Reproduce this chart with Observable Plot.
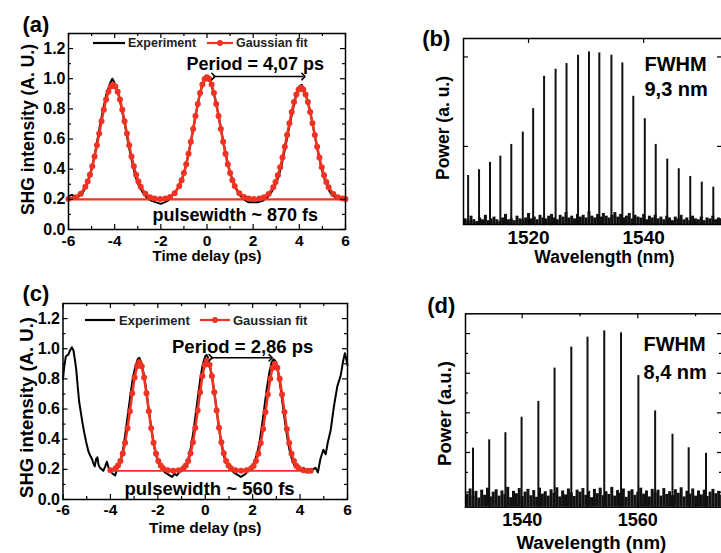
<!DOCTYPE html>
<html><head><meta charset="utf-8">
<script src="https://cdn.jsdelivr.net/npm/d3@7"></script>
<script src="https://cdn.jsdelivr.net/npm/@observablehq/plot@0.6"></script>
<style>
html,body{margin:0;padding:0;width:721px;height:553px;overflow:hidden;background:#fff;}
#root{position:relative;width:721px;height:553px;overflow:hidden;}
</style></head><body><div id="root"></div>
<script>
// ---------- data ----------
const timeTicks = [-6,-4,-2,0,2,4,6];
const timeMinor = [-5,-3,-1,1,3,5];
const shgTicks = [0,0.2,0.4,0.6,0.8,1.0,1.2];
const shgMinor = [0.1,0.3,0.5,0.7,0.9,1.1];

// (a) autocorrelation, experiment
const expA = [[-6.0,0.22],[-5.85,0.23],[-5.7,0.21],[-5.55,0.22],[-5.4,0.24],[-5.25,0.28],[-5.1,0.34],[-4.95,0.43],[-4.8,0.55],[-4.65,0.68],[-4.5,0.80],[-4.35,0.90],[-4.2,0.97],[-4.1,1.0],[-4.0,0.97],[-3.85,0.91],[-3.7,0.80],[-3.55,0.69],[-3.4,0.56],[-3.25,0.45],[-3.1,0.35],[-2.95,0.29],[-2.8,0.25],[-2.6,0.21],[-2.4,0.19],[-2.2,0.18],[-2.0,0.17],[-1.85,0.18],[-1.7,0.19],[-1.55,0.22],[-1.4,0.24],[-1.25,0.28],[-1.1,0.33],[-0.95,0.40],[-0.8,0.50],[-0.65,0.62],[-0.5,0.75],[-0.35,0.87],[-0.2,0.96],[-0.05,1.02],[0.05,1.01],[0.2,0.95],[0.35,0.87],[0.5,0.76],[0.65,0.63],[0.8,0.51],[0.95,0.41],[1.1,0.33],[1.25,0.27],[1.4,0.23],[1.6,0.20],[1.8,0.18],[2.0,0.18],[2.2,0.18],[2.4,0.19],[2.6,0.21],[2.8,0.25],[2.95,0.29],[3.1,0.35],[3.25,0.44],[3.4,0.55],[3.55,0.67],[3.7,0.78],[3.85,0.88],[4.0,0.95],[4.1,0.96],[4.2,0.93],[4.35,0.86],[4.5,0.76],[4.65,0.64],[4.8,0.52],[4.95,0.41],[5.1,0.33],[5.25,0.27],[5.4,0.23],[5.6,0.21],[5.8,0.20],[6.0,0.20]];
// (a) Gaussian fit points
const fitA = [[-6.0,0.202],[-5.67,0.214],[-5.47,0.237],[-5.27,0.283],[-5.17,0.318],[-5.07,0.363],[-4.97,0.419],[-4.87,0.484],[-4.77,0.558],[-4.67,0.637],[-4.57,0.718],[-4.47,0.794],[-4.37,0.862],[-4.27,0.914],[-4.17,0.949],[-4.07,0.960],[-3.97,0.949],[-3.87,0.914],[-3.77,0.862],[-3.67,0.794],[-3.57,0.718],[-3.47,0.637],[-3.37,0.558],[-3.27,0.484],[-3.17,0.419],[-3.07,0.363],[-2.97,0.318],[-2.87,0.283],[-2.67,0.237],[-2.47,0.214],[-2.27,0.205],[-2.03,0.203],[-1.8,0.206],[-1.6,0.215],[-1.4,0.240],[-1.2,0.288],[-1.1,0.326],[-1.0,0.374],[-0.9,0.433],[-0.8,0.503],[-0.7,0.582],[-0.6,0.666],[-0.5,0.752],[-0.4,0.833],[-0.3,0.906],[-0.2,0.961],[-0.1,0.998],[0.0,1.010],[0.1,0.998],[0.2,0.961],[0.3,0.906],[0.4,0.833],[0.5,0.752],[0.6,0.666],[0.7,0.582],[0.8,0.503],[0.9,0.433],[1.0,0.374],[1.1,0.326],[1.2,0.288],[1.4,0.240],[1.6,0.215],[1.8,0.206],[2.03,0.203],[2.27,0.205],[2.47,0.214],[2.67,0.236],[2.87,0.281],[2.97,0.315],[3.07,0.359],[3.17,0.413],[3.27,0.477],[3.37,0.549],[3.47,0.626],[3.57,0.704],[3.67,0.779],[3.77,0.845],[3.87,0.896],[3.97,0.929],[4.07,0.940],[4.17,0.929],[4.27,0.896],[4.37,0.845],[4.47,0.779],[4.57,0.704],[4.67,0.626],[4.77,0.549],[4.87,0.477],[4.97,0.413],[5.07,0.359],[5.17,0.315],[5.27,0.281],[5.47,0.236],[5.67,0.214],[5.87,0.205],[6.0,0.203]];
const baselineA = [{x1:-6, x2:6, y:0.2}];
const periodA = [{x1:0.28, x2:4.18, y:1.015}];

// (c) autocorrelation, experiment
const expC = [[-6.0,0.80],[-5.95,0.88],[-5.88,0.95],[-5.78,0.96],[-5.7,0.99],[-5.63,1.01],[-5.56,0.99],[-5.5,0.93],[-5.44,0.86],[-5.38,0.75],[-5.32,0.65],[-5.25,0.58],[-5.18,0.51],[-5.1,0.44],[-5.02,0.38],[-4.93,0.32],[-4.85,0.29],[-4.78,0.27],[-4.72,0.24],[-4.66,0.22],[-4.6,0.27],[-4.55,0.28],[-4.5,0.23],[-4.44,0.21],[-4.37,0.2],[-4.3,0.19],[-4.22,0.22],[-4.15,0.25],[-4.08,0.21],[-4.0,0.19],[-3.9,0.17],[-3.8,0.16],[-3.72,0.2],[-3.65,0.22],[-3.55,0.27],[-3.45,0.35],[-3.35,0.46],[-3.25,0.58],[-3.15,0.70],[-3.05,0.81],[-2.95,0.88],[-2.85,0.93],[-2.78,0.94],[-2.7,0.91],[-2.6,0.84],[-2.5,0.74],[-2.4,0.62],[-2.3,0.5],[-2.2,0.39],[-2.1,0.31],[-2.0,0.25],[-1.9,0.22],[-1.8,0.2],[-1.7,0.18],[-1.6,0.17],[-1.5,0.16],[-1.4,0.15],[-1.3,0.17],[-1.2,0.16],[-1.1,0.18],[-1.0,0.19],[-0.9,0.2],[-0.8,0.23],[-0.7,0.28],[-0.6,0.35],[-0.5,0.45],[-0.4,0.57],[-0.3,0.69],[-0.2,0.81],[-0.1,0.9],[0.0,0.95],[0.05,0.96],[0.12,0.94],[0.2,0.89],[0.3,0.8],[0.4,0.69],[0.5,0.57],[0.6,0.45],[0.7,0.35],[0.8,0.28],[0.9,0.24],[1.0,0.21],[1.1,0.2],[1.2,0.18],[1.3,0.17],[1.4,0.16],[1.5,0.15],[1.6,0.16],[1.7,0.17],[1.8,0.19],[1.9,0.2],[2.0,0.22],[2.1,0.26],[2.2,0.31],[2.3,0.39],[2.4,0.5],[2.5,0.62],[2.6,0.74],[2.7,0.84],[2.8,0.91],[2.88,0.93],[2.95,0.92],[3.05,0.86],[3.15,0.77],[3.25,0.65],[3.35,0.53],[3.45,0.42],[3.55,0.33],[3.65,0.27],[3.75,0.23],[3.85,0.21],[3.95,0.22],[4.05,0.2],[4.15,0.21],[4.25,0.19],[4.35,0.18],[4.45,0.19],[4.55,0.2],[4.65,0.21],[4.75,0.18],[4.86,0.27],[4.98,0.33],[5.08,0.3],[5.17,0.38],[5.29,0.46],[5.43,0.62],[5.57,0.75],[5.71,0.82],[5.82,0.92],[5.89,0.97],[5.95,0.93],[6.0,0.89]];
// (c) Gaussian fit points
const fitC = [[-4.0,0.194],[-3.78,0.207],[-3.68,0.225],[-3.58,0.256],[-3.48,0.305],[-3.38,0.377],[-3.28,0.472],[-3.18,0.585],[-3.08,0.704],[-2.98,0.810],[-2.88,0.883],[-2.78,0.910],[-2.68,0.883],[-2.58,0.810],[-2.48,0.704],[-2.38,0.585],[-2.28,0.472],[-2.18,0.377],[-2.08,0.305],[-1.98,0.256],[-1.88,0.225],[-1.78,0.207],[-1.58,0.194],[-1.35,0.190],[-1.12,0.194],[-0.92,0.208],[-0.82,0.225],[-0.72,0.256],[-0.62,0.307],[-0.52,0.380],[-0.42,0.476],[-0.32,0.591],[-0.22,0.711],[-0.12,0.819],[-0.02,0.893],[0.08,0.920],[0.18,0.893],[0.28,0.819],[0.38,0.711],[0.48,0.591],[0.58,0.476],[0.68,0.380],[0.78,0.307],[0.88,0.256],[0.98,0.225],[1.08,0.208],[1.28,0.194],[1.51,0.190],[1.74,0.194],[1.94,0.207],[2.04,0.224],[2.14,0.255],[2.24,0.304],[2.34,0.375],[2.44,0.468],[2.54,0.580],[2.64,0.697],[2.74,0.801],[2.84,0.874],[2.94,0.900],[3.04,0.874],[3.14,0.801],[3.24,0.697],[3.34,0.580],[3.44,0.468],[3.54,0.375],[3.64,0.304],[3.74,0.255],[3.84,0.224],[3.94,0.207],[4.14,0.194],[4.3,0.191],[4.45,0.190]];
const baselineC = [{x1:-4.0, x2:4.5, y:0.19}];
const periodC = [{x1:0.23, x2:2.76, y:0.94}];

// (b) spectrum: comb lines (nm, a.u.)
const wlTicksB = [1520,1540];
const powTicksB = [1,2];
const linesBwl = [1509.5,1511.4,1513.3,1515.1,1517.0,1519.0,1520.8,1522.7,1524.7,1526.6,1528.6,1530.5,1532.3,1534.4,1536.3,1538.2,1540.2,1542.1,1544.1,1546.1,1548.1,1550.1,1552.1];
const linesBp = [0.675,0.739,0.821,0.891,1.022,1.160,1.422,1.784,1.862,1.926,2.019,2.056,2.045,2.019,1.933,1.560,1.310,1.022,0.858,0.750,0.664,0.600,0.544];
const noiseBstart = 1509.0, noiseBstep = 0.5;
const noiseB = [0.19,0.17,0.22,0.18,0.16,0.2,0.18,0.23,0.17,0.19,0.21,0.18,0.16,0.2,0.24,0.18,0.19,0.17,0.22,0.19,0.18,0.2,0.25,0.19,0.21,0.18,0.23,0.2,0.19,0.22,0.24,0.2,0.18,0.23,0.21,0.26,0.2,0.22,0.19,0.24,0.21,0.23,0.2,0.27,0.22,0.2,0.24,0.21,0.25,0.22,0.2,0.23,0.26,0.21,0.24,0.2,0.22,0.25,0.19,0.23,0.21,0.2,0.24,0.18,0.22,0.2,0.23,0.19,0.21,0.18,0.22,0.2,0.17,0.21,0.19,0.23,0.18,0.2,0.17,0.22,0.19,0.18,0.21,0.17,0.2,0.19,0.22,0.18,0.2,0.19];

// (d) spectrum
const wlTicksD = [1540,1560];
const wlMinorD = [1550,1570];
const powTicksD = [0,1,2,3,4];
const powMinorD = [0.5,1.5,2.5,3.5];
const linesDwl = [1531.5,1534.3,1537.1,1539.9,1542.8,1545.6,1548.5,1551.3,1554.2,1557.1,1560.1,1563.0,1566.0,1568.8,1571.8];
const linesDp = [1.11,1.32,1.50,1.89,2.29,3.13,3.66,3.91,4.07,4.02,2.94,2.05,1.46,1.12,0.98];
const noiseDstart = 1530.5, noiseDstep = 0.5;
const noiseD = [-0.05,0.08,-0.1,0.02,-0.15,0.05,-0.08,0.1,-0.12,0.0,0.06,-0.1,0.03,-0.06,0.12,-0.14,0.02,-0.04,0.09,-0.11,0.0,0.07,-0.09,0.04,-0.13,0.1,-0.05,0.01,-0.1,0.06,-0.03,0.11,-0.12,0.03,-0.07,0.08,-0.02,-0.11,0.05,0.0,0.09,-0.08,0.02,-0.14,0.07,-0.04,0.1,-0.09,0.01,-0.06,0.12,-0.1,0.04,-0.03,0.08,-0.13,0.02,0.06,-0.08,0.0,0.1,-0.05,0.03,-0.12,0.07,-0.02,0.05,-0.1,0.09,-0.06,0.01,-0.09,0.06,-0.03,0.11,-0.12,0.02,-0.05,0.08,-0.1,0.03,-0.07,0.05,-0.11,0.0,0.07,-0.04,0.02,-0.08];

// ---------- rendering ----------
const FONT = '"Liberation Sans", Arial, Helvetica, sans-serif';
const RED = "#ee3322";
const root = document.getElementById("root");

function frameTicks(xMaj, xMin, yMaj, yMin, iw, ih) {
  const s = {stroke:"#000", strokeWidth:1.2};
  const tx = (v, len) => v.length ? [Plot.tickX(v, {x:d=>d, insetTop: ih-len, ...s}), Plot.tickX(v, {x:d=>d, insetBottom: ih-len, ...s})] : [];
  const ty = (v, len) => v.length ? [Plot.tickY(v, {y:d=>d, insetRight: iw-len, ...s}), Plot.tickY(v, {y:d=>d, insetLeft: iw-len, ...s})] : [];
  return [...tx(xMaj,5), ...tx(xMin,3), ...ty(yMaj,5), ...ty(yMin,3)];
}
function label(txt, o) {
  return Plot.text([txt], {text:d=>d, fontWeight:"bold", fill:"#000", ...o});
}
function place(el, left, top) {
  el.style.position = "absolute"; el.style.left = left+"px"; el.style.top = top+"px";
  root.append(el);
}
const baseStyle = {fontFamily: FONT, fontWeight:"bold", fontSize:"16px", color:"#000", background:"transparent", overflow:"visible"};

function shgPanel(o) {
  const iw = o.width - o.ml - o.mr, ih = o.height - o.mt - o.mb;
  return Plot.plot({
    width:o.width, height:o.height, marginLeft:o.ml, marginRight:o.mr, marginTop:o.mt, marginBottom:o.mb,
    x:{domain:[-6,6]}, y:{domain:[0,1.3]},
    style: baseStyle,
    marks:[
      Plot.line(o.exp, {x:d=>d[0], y:d=>d[1], stroke:"#000", strokeWidth:2}),
      Plot.ruleY(o.base, {x1:"x1", x2:"x2", y:"y", stroke:RED, strokeWidth:o.baseW}),
      Plot.line(o.fit, {x:d=>d[0], y:d=>d[1], stroke:RED, strokeWidth:2.6}),
      Plot.dot(o.fit, {x:d=>d[0], y:d=>d[1], r:3, fill:RED}),
      Plot.link(o.period, {x1:"x1", x2:"x2", y1:"y", y2:"y", stroke:"#000", strokeWidth:1.6, markerStart:"arrow", markerEnd:"arrow"}),
      Plot.frame({stroke:"#000", strokeWidth:1.5}),
      ...frameTicks(timeTicks, timeMinor, shgTicks, shgMinor, iw, ih),
      Plot.axisX({ticks:timeTicks, tickSize:0, tickPadding:o.xPad, tickFormat:d=>String(d), label:null, fontSize:15.5}),
      Plot.axisY({ticks:shgTicks, tickSize:0, tickPadding:3, tickFormat:d3.format(".1f"), label:null, fontSize:16}),
      label("Time delay (ps)", {frameAnchor:"bottom", dy:o.xtDy, textAnchor:"middle", lineAnchor:"middle", fontSize:o.xtSize}),
      label("SHG intensity (A. U.)", {frameAnchor:"left", rotate:-90, dx:o.ytDx, dy:o.ytDy, textAnchor:"middle", lineAnchor:"middle", fontSize:o.ytSize}),
      label(o.tag, {frameAnchor:"top-left", dx:o.tag_dx, dy:o.tag_dy, textAnchor:"start", lineAnchor:"bottom", fontSize:22}),
      label(o.periodText, {frameAnchor:"top-left", dx:o.p_dx, dy:o.p_dy, textAnchor:"start", lineAnchor:"bottom", fontSize:o.pSize}),
      label(o.pulseText, {frameAnchor:"top-left", dx:o.w_dx, dy:o.w_dy, textAnchor:"start", lineAnchor:"bottom", fontSize:o.pSize})
    ]
  });
}

function specPanel(o) {
  const iw = o.width - o.ml - o.mr, ih = o.height - o.mt - o.mb;
  const bottom = o.yDomain[0];
  return Plot.plot({
    width:o.width, height:o.height, marginLeft:o.ml, marginRight:o.mr, marginTop:o.mt, marginBottom:o.mb,
    x:{domain:o.xDomain}, y:{domain:o.yDomain, axis:null},
    style: baseStyle,
    marks:[
      Plot.ruleX(o.noise, {x:(d,i)=>o.nStart + i*o.nStep, y1:bottom, y2:d=>d, stroke:"#111", strokeWidth:3}),
      Plot.ruleX(o.wl, {x:d=>d, y1:bottom, y2:(d,i)=>o.p[i], stroke:"#111", strokeWidth:2}),
      Plot.frame({stroke:"#000", strokeWidth:1.5}),
      ...frameTicks(o.xTicks, o.xMinor, o.yTicks, o.yMinor, iw, ih),
      Plot.axisX({ticks:o.xTicks, tickSize:0, tickPadding:o.xPad, tickFormat:d=>String(d), label:null, fontSize:o.tickSize}),
      label("Wavelength (nm)", {frameAnchor:"bottom", dx:o.xtDx, dy:o.xtDy, textAnchor:"middle", lineAnchor:"middle", fontSize:o.xtSize}),
      label(o.yTitle, {frameAnchor:"left", rotate:-90, dx:o.ytDx, dy:o.ytDy, textAnchor:"middle", lineAnchor:"middle", fontSize:o.ytSize}),
      label(o.tag, {frameAnchor:"top-left", dx:o.tag_dx, dy:o.tag_dy, textAnchor:"start", lineAnchor:"bottom", fontSize:22}),
      label("FWHM", {frameAnchor:"top-left", dx:o.f_dx, dy:o.f_dy1, textAnchor:"start", lineAnchor:"bottom", fontSize:20}),
      label(o.fwhm, {frameAnchor:"top-left", dx:o.f_dx, dy:o.f_dy2, textAnchor:"start", lineAnchor:"bottom", fontSize:20})
    ]
  });
}

// legend overlay (inside panels a and c)
function legend(x0, y0, fs, blackW, gapText, redX, redW, textX2) {
  const ns = "http://www.w3.org/2000/svg";
  const svg = document.createElementNS(ns, "svg");
  svg.setAttribute("width", 300); svg.setAttribute("height", 20);
  svg.style.overflow = "visible";
  const mk = (tag, attrs) => { const e = document.createElementNS(ns, tag); for (const k in attrs) e.setAttribute(k, attrs[k]); svg.append(e); return e; };
  mk("line", {x1:0, x2:blackW, y1:10, y2:10, stroke:"#000", "stroke-width":2.2});
  const t1 = mk("text", {x:gapText, y:10, "dominant-baseline":"central", "font-family":FONT, "font-weight":"bold", "font-size":fs, fill:"#222"}); t1.textContent = "Experiment";
  mk("line", {x1:redX, x2:redX+redW, y1:10, y2:10, stroke:RED, "stroke-width":2.2});
  mk("circle", {cx:redX+redW/2, cy:10, r:3, fill:RED});
  const t2 = mk("text", {x:textX2, y:10, "dominant-baseline":"central", "font-family":FONT, "font-weight":"bold", "font-size":fs, fill:"#222"}); t2.textContent = "Gaussian fit";
  svg.style.position = "absolute"; svg.style.left = x0+"px"; svg.style.top = (y0-10)+"px";
  return svg;
}

const pa = shgPanel({width:360, height:270, ml:68, mr:15, mt:33, mb:41,
  exp:expA, fit:fitA, base:baselineA, baseW:2.2, period:periodA,
  xPad:5, xtDy:27, xtSize:15, ytDx:-40, ytDy:-2, ytSize:17.5,
  tag:"(a)", tag_dx:-46, tag_dy:-2,
  periodText:"Period = 4,07 ps", p_dx:118, p_dy:36, pSize:18,
  pulseText:"pulsewidth ~ 870 fs", w_dx:84, w_dy:187});
place(pa, 0, 0);

const pc = shgPanel({width:360, height:283, ml:62.5, mr:13, mt:33, mb:54,
  exp:expC, fit:fitC, base:baselineC, baseW:1.6, period:periodC,
  xPad:4, xtDy:28.5, xtSize:15.5, ytDx:-35.5, ytDy:6, ytSize:18.5,
  tag:"(c)", tag_dx:-40.5, tag_dy:-3,
  periodText:"Period = 2,86 ps", p_dx:109, p_dy:49, pSize:18.5,
  pulseText:"pulsewidth ~ 560 fs", w_dx:61.5, w_dy:191});
place(pc, 0, 270);

const pb = specPanel({width:400, height:270, ml:103, mr:38, mt:38, mb:46,
  xDomain:[1508.7,1553.7], yDomain:[0.127,2.206],
  noise:noiseB, nStart:noiseBstart, nStep:noiseBstep, wl:linesBwl, p:linesBp,
  xTicks:wlTicksB, xMinor:[], yTicks:powTicksB, yMinor:[],
  xPad:6, tickSize:19, xtDx:11.5, xtDy:33, xtSize:17.5,
  yTitle:"Power (a. u.)", ytDx:-20.5, ytDy:-3.5, ytSize:17.5,
  tag:"(b)", tag_dx:-41.3, tag_dy:7,
  f_dx:181, f_dy1:32.5, f_dy2:57, fwhm:"9,3 nm"});
place(pb, 360, 0);

const pd = specPanel({width:400, height:283, ml:105, mr:38, mt:43.3, mb:46.3,
  xDomain:[1530.2,1574.65], yDomain:[-0.38,4.5],
  noise:noiseD, nStart:noiseDstart, nStep:noiseDstep, wl:linesDwl, p:linesDp,
  xTicks:wlTicksD, xMinor:wlMinorD, yTicks:powTicksD, yMinor:powMinorD,
  xPad:6.5, tickSize:18, xtDx:-2.7, xtDy:36.3, xtSize:18.7,
  yTitle:"Power (a.u.)", ytDx:-20, ytDy:3, ytSize:18.5,
  tag:"(d)", tag_dx:-38.3, tag_dy:-1,
  f_dx:178, f_dy1:36.7, f_dy2:64.7, fwhm:"8,4 nm"});
place(pd, 360, 270);

root.append(legend(93, 43, 12.5, 32, 35, 114, 26, 143));
root.append(legend(85, 320, 13, 30, 34, 115, 30, 148));
</script></body></html>
